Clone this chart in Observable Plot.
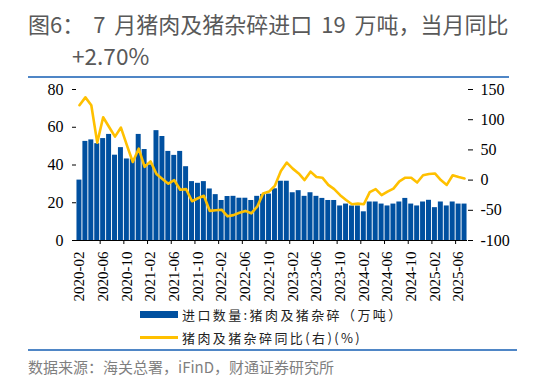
<!DOCTYPE html>
<html><head><meta charset="utf-8">
<script src="https://cdn.jsdelivr.net/npm/d3@7"></script>
<script src="https://cdn.jsdelivr.net/npm/@observablehq/plot@0.6"></script>
<style>
html,body{margin:0;padding:0;background:#fff;}
body{width:533px;height:380px;overflow:hidden;position:relative;font-family:"Noto Sans CJK SC","Noto Sans",sans-serif;}
.abs{position:absolute;white-space:nowrap;}
#t1{left:28px;top:8px;font-size:22px;line-height:30px;color:#595959;word-spacing:4px;}
#t2{left:72px;top:41px;font-size:22.6px;line-height:30px;color:#595959;}
.hr{position:absolute;left:28px;height:1.5px;background:#4f86c6;}
#chart{position:absolute;left:0;top:80px;}
#chart svg text{font-family:"Liberation Serif","Times New Roman",serif !important;fill:#000;}
.lg{font-size:13px;letter-spacing:2.4px;color:#222;line-height:16px;}
#src{left:28px;top:357px;font-size:15px;line-height:20px;color:#7f7f7f;}
</style></head><body>
<div class="abs" id="t1">图6： 7 月猪肉及猪杂碎进口 19 万吨，当月同比</div>
<div class="abs" id="t2">+2.70%</div>
<div class="hr" style="top:76px;width:481px;"></div>
<div id="chart"></div>
<div class="abs" style="left:140px;top:311px;width:38px;height:7px;background:#0050A0;"></div>
<div class="abs lg" style="left:182px;top:307px;">进口数量:猪肉及猪杂碎（万吨）</div>
<div class="abs" style="left:140px;top:336px;width:38px;height:3px;background:#FFC000;"></div>
<div class="abs lg" style="left:182px;top:330px;">猪肉及猪杂碎同比(右)(%)</div>
<div class="hr" style="top:349px;width:489px;"></div>
<div class="abs" id="src">数据来源：海关总署，iFinD，财通证券研究所</div>
<script>
// categories: monthly 2020-02 .. 2025-07
const months = d3.utcMonth.range(new Date(Date.UTC(2020,1,1)), new Date(Date.UTC(2025,7,1))).map(d3.utcFormat("%Y-%m"));
// 进口数量:猪肉及猪杂碎（万吨）
const imports = [32,52.5,53.3,51.3,54,56.2,45.2,49.2,43.2,43.2,56.2,48.2,
  40,58.2,55.1,47.2,45.1,47.2,39.1,31.2,30.3,31.2,27.3,24.3,
  21.2,23.3,23.4,22.4,22.4,21.2,23.4,24.4,24.6,27.4,31.4,31.4,
  25.3,26.4,23.4,25.3,23.4,22.3,21.2,21.2,18.3,19.3,18.3,18.3,
  15.2,20.4,20.4,19.3,18.3,19.3,20.4,22.3,19.3,18.3,20.4,21.3,
  17.4,20.4,18.3,20.4,19.3,19.3];
// 猪肉及猪杂碎同比(右)(%)
const yoy = [124,137,124,62,104,88,72,87,58,30,52,22,
  31,10,2,-6,0,-16,-15,-35,-30,-26,-51,-50,
  -49,-60,-58,-54,-51,-55,-44,-22,-19,-9,15,29,
  19,11,0,14,5,4,-8,-15,-25,-33,-40,-39,
  -40,-20,-15,-25,-19,-14,-2,4,4,-4,8,10,
  11,0,-8,8,5,2.7];
const leftTicks = [0,20,40,60,80];
const rightTicks = [-100,-50,0,50,100,150];
const xLabels = months.filter((m,i)=>i%4===0);

const leftDomain = [0,80], rightDomain = [-100,150];
const toLeft = v => leftDomain[0] + (v - rightDomain[0]) * (leftDomain[1]-leftDomain[0])/(rightDomain[1]-rightDomain[0]);
const toRight = v => rightDomain[0] + (v - leftDomain[0]) * (rightDomain[1]-rightDomain[0])/(leftDomain[1]-leftDomain[0]);

const data = months.map((m,i)=>({m, v:imports[i], r:yoy[i]}));
const serif = "'Liberation Serif','Times New Roman',serif";

const chart = Plot.plot({
  width:533, height:225,
  marginTop:9, marginBottom:65, marginLeft:76, marginRight:66,
  style:{fontFamily:serif, fontSize:"15px", color:"#000", background:"transparent"},
  x:{type:"band", domain:months, paddingInner:0.16, paddingOuter:0.08},
  y:{domain:leftDomain},
  marks:[
    Plot.barY(data,{x:"m", y:"v", fill:"#0050A0"}),
    Plot.line(data,{x:"m", y:d=>toLeft(d.r), stroke:"#FFC000", strokeWidth:2.6, strokeLinejoin:"round"}),
    Plot.ruleY([0],{stroke:"#000", strokeWidth:1}),
    Plot.axisY({ticks:leftTicks, tickSize:4, tickPadding:9, line:true, label:null, fontSize:16}),
    Plot.axisY({ticks:rightTicks.map(toLeft), anchor:"right", tickSize:5, tickPadding:8, line:true, label:null, fontSize:16, tickFormat:d=>String(Math.round(toRight(d)))}),
    Plot.axisX({ticks:xLabels.slice(1), tickSize:4, tickFormat:()=>"", label:null, dx:-3}),
    Plot.axisX({ticks:xLabels, tickSize:0, tickPadding:11, tickRotate:-90, label:null, fontSize:15})
  ]
});
document.getElementById("chart").appendChild(chart);
</script>
</body></html>
